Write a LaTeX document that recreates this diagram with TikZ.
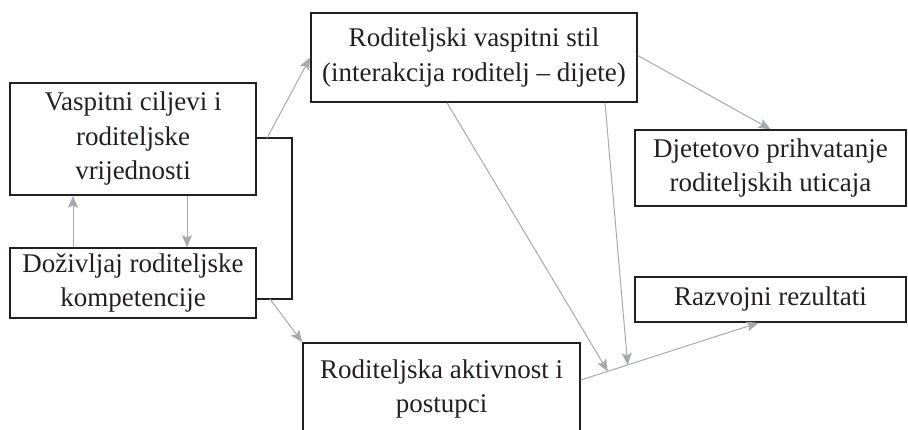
\documentclass[tikz,border=0pt]{standalone}
\usepackage{fontspec}
\setmainfont{Liberation Serif}
\usetikzlibrary{arrows.meta,calc}
\definecolor{ink}{HTML}{231F20}
\definecolor{arr}{HTML}{A7A9AC}
\begin{document}
\begin{tikzpicture}[x=1pt,y=-1pt,
  box/.style={draw=ink, line width=1.6pt, text=ink, font=\fontsize{27}{34.5}\selectfont, align=center, inner sep=0pt},
  conn/.style={draw=arr, line width=1pt, -{Stealth[length=12pt,width=10pt,inset=2.5pt]}},
  bracket/.style={draw=ink, line width=1.6pt}]
\useasboundingbox (0,0) rectangle (908,429);
\node[box, minimum width=246pt, minimum height=112pt] (A) at (133,139) {Vaspitni ciljevi i\\roditeljske\\vrijednosti};
\node[box, minimum width=246pt, minimum height=70pt] (B) at (133,283) {Doživljaj roditeljske\\kompetencije};
\node[box, minimum width=326pt, minimum height=89pt] (C) at (474,57.5) {Roditeljski vaspitni stil\\(interakcija roditelj – dijete)};
\node[box, minimum width=271pt, minimum height=76pt] (D) at (770.5,168) {Djetetovo prihvatanje\\roditeljskih uticaja};
\node[box, minimum width=271pt, minimum height=45pt] (E) at (770.5,299.5) {Razvojni rezultati};
\node[box, minimum width=277pt, minimum height=92pt] (F) at (441.5,389) {Roditeljska aktivnost i\\postupci};
% bracket
\coordinate (k1) at (292,138);
\coordinate (k2) at (292,299);
\draw[bracket] (A.east |- k1) -- (k1) -- (k2) -- (B.east |- k2);
% arrows between A and B
\draw[conn] ([xshift=-60pt]B.north) -- ([xshift=-60pt]A.south);
\draw[conn] ([xshift=54pt]A.south) -- ([xshift=54pt]B.north);
% from bracket
\coordinate (s1) at (267,138);
\coordinate (s2) at (270,299);
\draw[conn] (s1) -- (C.west);
\draw[conn] (s2) -- (F.north west);
% C to D
\draw[conn] ([yshift=2pt]C.east) -- (D.north);
% F to E
\coordinate (f1) at ([yshift=9pt]F.east);
\coordinate (e1) at ([xshift=-12pt]E.south);
\draw[conn] (f1) -- (e1);
\coordinate (m1) at ($(f1)!0.152!(e1)$);
\coordinate (m2) at ($(f1)!0.264!(e1)$);
\draw[conn] ([xshift=-27pt]C.south) -- (m1);
\draw[conn] ([xshift=131pt]C.south) -- (m2);
\end{tikzpicture}
\end{document}
